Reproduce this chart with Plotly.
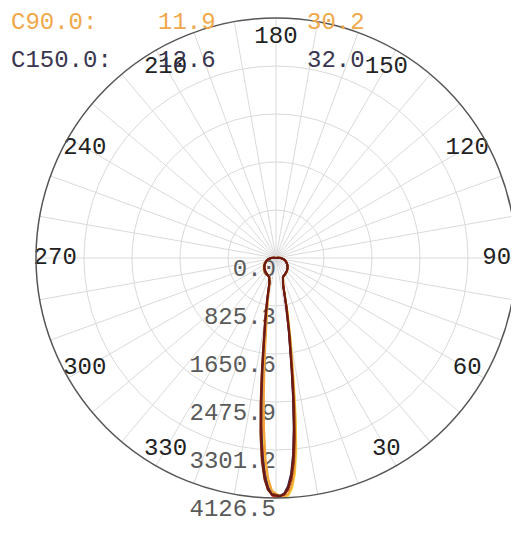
import plotly.graph_objects as go

# ---------------- data ----------------
GAMMA = [0, 1, 2, 3, 4, 5, 6, 7, 8, 10, 12, 15, 20, 25, 30, 40, 50, 60, 70, 80, 90, 100, 110]

# intensity (cd) per C-plane ; right half = C, left half = C+180
C0_R   = [4126, 4120, 4080, 3980, 3780, 3450, 3000, 2480, 1980, 1300, 860, 470, 350, 330, 318, 292, 262, 225, 185, 140, 85, 35, 0]
C180_L = [4126, 4080, 3920, 3640, 3220, 2720, 2180, 1720, 1360, 920, 660, 410, 340, 325, 313, 288, 258, 222, 182, 138, 83, 34, 0]
C30_R  = [4090, 4100, 4060, 3960, 3760, 3420, 2960, 2440, 1950, 1280, 850, 465, 348, 328, 316, 290, 260, 224, 184, 139, 84, 35, 0]
C210_L = [4090, 4070, 3980, 3780, 3450, 3000, 2480, 1980, 1560, 1050, 730, 435, 345, 330, 318, 292, 262, 226, 186, 141, 86, 36, 0]
C60_R  = [4070, 4090, 4070, 3990, 3820, 3530, 3100, 2580, 2080, 1370, 900, 480, 352, 332, 320, 294, 264, 227, 187, 142, 86, 36, 0]
C240_L = [4070, 4060, 3990, 3810, 3500, 3060, 2540, 2030, 1600, 1080, 745, 440, 348, 332, 320, 294, 264, 228, 188, 142, 87, 36, 0]
C90_R  = [4060, 4100, 4110, 4060, 3920, 3660, 3250, 2700, 2160, 1420, 930, 488, 355, 334, 322, 296, 265, 228, 188, 143, 87, 36, 0]
C270_L = [4060, 4000, 3800, 3450, 2950, 2400, 1900, 1500, 1200, 850, 620, 400, 338, 324, 312, 287, 257, 221, 181, 137, 82, 34, 0]
C120_R = [4050, 4100, 4126, 4090, 3970, 3730, 3340, 2800, 2250, 1480, 970, 500, 358, 336, 324, 298, 267, 230, 190, 144, 88, 37, 0]
C300_L = [4050, 4010, 3840, 3520, 3050, 2520, 2000, 1580, 1260, 880, 640, 405, 339, 324, 312, 287, 257, 221, 181, 137, 82, 34, 0]
C150_R = [4080, 4090, 4050, 3930, 3720, 3380, 2920, 2400, 1920, 1260, 840, 460, 346, 327, 315, 289, 259, 223, 183, 139, 84, 35, 0]
C330_L = [4080, 4060, 3950, 3720, 3360, 2900, 2360, 1880, 1480, 1000, 700, 428, 344, 329, 317, 291, 261, 225, 185, 140, 85, 35, 0]

RADIAL_TICKS = [0.0, 825.3, 1650.6, 2475.9, 3301.2, 4126.5]
RADIAL_LABELS = ["0.0", "825.3", "1650.6", "2475.9", "3301.2", "4126.5"]
ANGLE_TICKS = [30, 60, 90, 120, 150, 180, 210, 240, 270, 300, 330]
ANGLE_LABELS = ["30", "60", "90", "120", "150", "180", "210", "240", "270", "300", "330"]

LEGEND_NAMES = ["C90.0:", "C150.0:"]
LEGEND_BEAM = ["11.9", "12.6"]
LEGEND_FIELD = ["30.2", "32.0"]

RMAX = RADIAL_TICKS[-1]
FONT = "Liberation Mono, Courier New, monospace"

fig = go.Figure()

# radial tick labels (drawn beneath curves)
fig.add_trace(go.Scatterpolar(
    r=RADIAL_TICKS, theta=[0] * len(RADIAL_TICKS), mode="text",
    text=RADIAL_LABELS, textposition="bottom left",
    textfont=dict(family=FONT, size=24, color="#5a5a5a"),
    hoverinfo="skip", showlegend=False))

# angular tick labels, inside the outer circle
fig.add_trace(go.Scatterpolar(
    r=[RMAX * 0.92] * len(ANGLE_TICKS), theta=ANGLE_TICKS, mode="text",
    text=ANGLE_LABELS, textposition="middle center",
    textfont=dict(family=FONT, size=24, color="#222222"),
    hoverinfo="skip", showlegend=False))

planes = [
    ("C0", C0_R, C180_L, "#e0302a"),
    ("C120", C120_R, C300_L, "#f3d23c"),
    ("C90", C90_R, C270_L, "#f5a338"),
    ("C150", C150_R, C330_L, "#3e2f5b"),
    ("C60", C60_R, C240_L, "#8a3a1a"),
    ("C30", C30_R, C210_L, "#6e1810"),
]

for name, right, left, color in planes:
    theta = list(GAMMA) + [360 - g for g in reversed(GAMMA)]
    r = list(right) + list(reversed(left))
    fig.add_trace(go.Scatterpolar(
        r=r, theta=theta, mode="lines", name=name,
        line=dict(color=color, width=2), showlegend=False))

# legend-like text block at top left
rows_y = [0.972, 0.902]
rows_col = ["#f0a84a", "#3a3550"]
for i in range(len(LEGEND_NAMES)):
    for txt, x in ((LEGEND_NAMES[i], 0.002), (LEGEND_BEAM[i], 0.285), (LEGEND_FIELD[i], 0.572)):
        fig.add_annotation(x=x, y=rows_y[i], xref="paper", yref="paper",
                           text=txt, showarrow=False, xanchor="left", yanchor="middle",
                           font=dict(family=FONT, size=24, color=rows_col[i]))

fig.update_layout(
    width=519, height=533,
    margin=dict(l=0, r=0, t=0, b=0),
    paper_bgcolor="white",
    showlegend=False,
    polar=dict(
        domain=dict(x=[0.0539, 0.9788], y=[0.0807, 0.9812]),
        bgcolor="white",
        radialaxis=dict(range=[0, RMAX], tickvals=RADIAL_TICKS[1:], showticklabels=False,
                        showline=False, ticks="", gridcolor="#dadada", gridwidth=1),
        angularaxis=dict(rotation=-90, direction="counterclockwise", dtick=10,
                         showticklabels=False, ticks="", showline=True,
                         linecolor="#555555", linewidth=1.5,
                         gridcolor="#dadada", gridwidth=1),
    ),
)

fig.write_html("out.html")
